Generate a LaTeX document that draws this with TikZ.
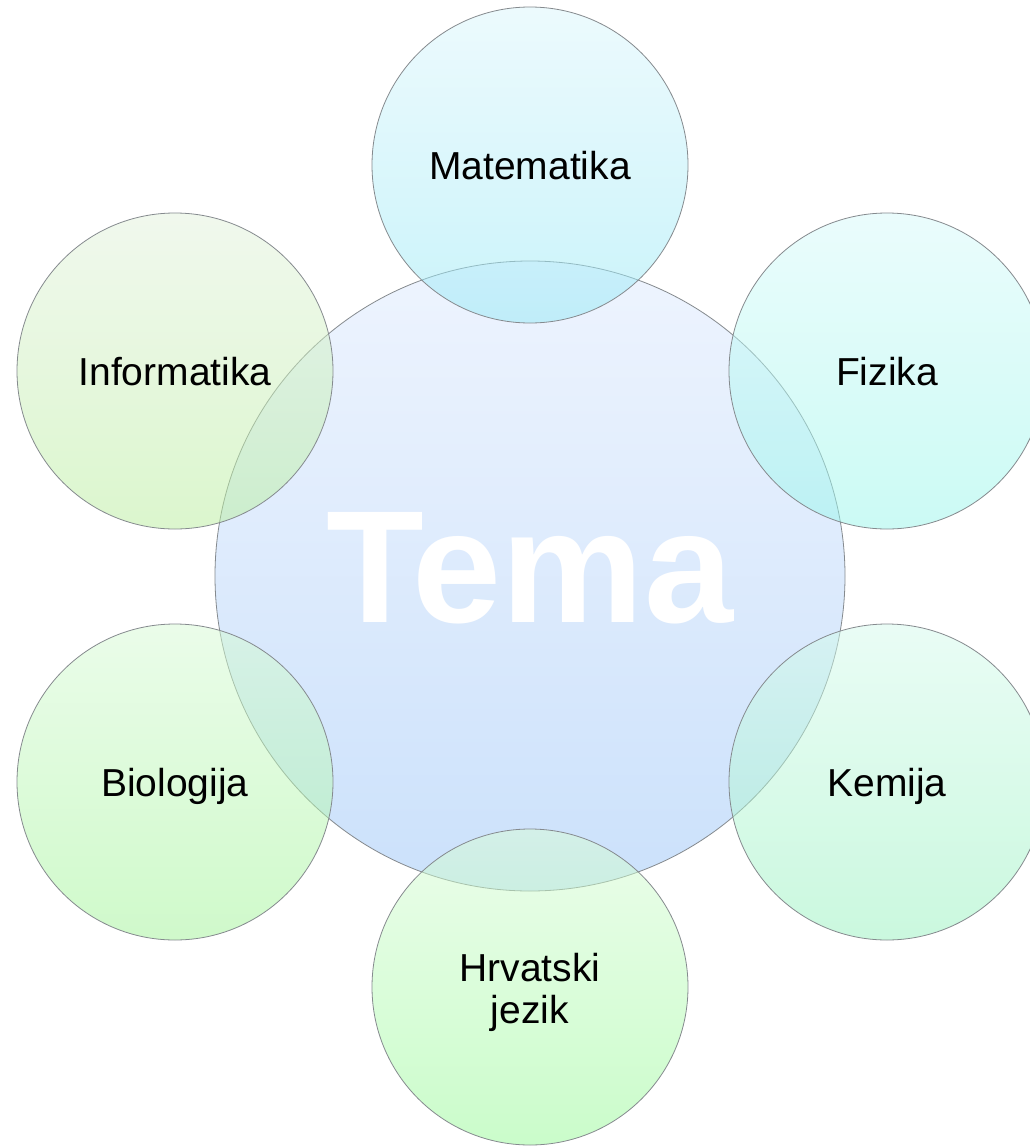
\documentclass[tikz,border=0pt]{standalone}
\usepackage{fontspec}
\setmainfont{Liberation Sans}
\definecolor{edge}{HTML}{858A8E}
\definecolor{bigtop}{HTML}{EEF4FE}
\definecolor{bigbot}{HTML}{CBE1FB}
\definecolor{mattop}{HTML}{DBF7FD}
\definecolor{matbot}{HTML}{96E9F6}
\definecolor{fiztop}{HTML}{D7FBFB}
\definecolor{fizbot}{HTML}{99F7EB}
\definecolor{kemtop}{HTML}{D5FBED}
\definecolor{kembot}{HTML}{97F3BF}
\definecolor{hrvtop}{HTML}{D9FDD7}
\definecolor{hrvbot}{HTML}{97FB97}
\definecolor{biotop}{HTML}{D7FBD5}
\definecolor{biobot}{HTML}{A1F597}
\definecolor{inftop}{HTML}{E3F3DD}
\definecolor{infbot}{HTML}{B9EF9D}
\begin{document}
\begin{tikzpicture}[x=1pt,y=-1pt,
  bigcirc/.style={circle, minimum size=630pt, inner sep=0pt, draw=edge, line width=0.8pt,
    top color=bigtop, bottom color=bigbot},
  smallcirc/.style={circle, minimum size=316pt, inner sep=0pt, draw=edge, line width=0.8pt,
    fill opacity=0.5, text opacity=1, draw opacity=1, text=black,
    font=\fontsize{39}{44}\selectfont, text height=28pt, text depth=0pt, align=center},
  tematext/.style={text=white, font=\fontsize{160}{160}\selectfont\bfseries, inner sep=0pt}]
\clip (0,0) rectangle (1030,1146);
\fill[white] (0,0) rectangle (1030,1146);
\node[bigcirc] (tema) at (530,576) {};
\node[tematext] (tematxt) at (530,568) {Tema};
\node[smallcirc, top color=mattop, bottom color=matbot] (mat) at (530,165) {Matematika};
\node[smallcirc, top color=fiztop, bottom color=fizbot] (fiz) at (887,371) {Fizika};
\node[smallcirc, top color=kemtop, bottom color=kembot] (kem) at (887,782) {Kemija};
\node[smallcirc, top color=hrvtop, bottom color=hrvbot, text height=72pt] (hrv) at (530,987) {Hrvatski\\[-2pt]jezik};
\node[smallcirc, top color=biotop, bottom color=biobot] (bio) at (175,782) {Biologija};
\node[smallcirc, top color=inftop, bottom color=infbot] (inf) at (175,371) {Informatika};
\end{tikzpicture}
\end{document}
